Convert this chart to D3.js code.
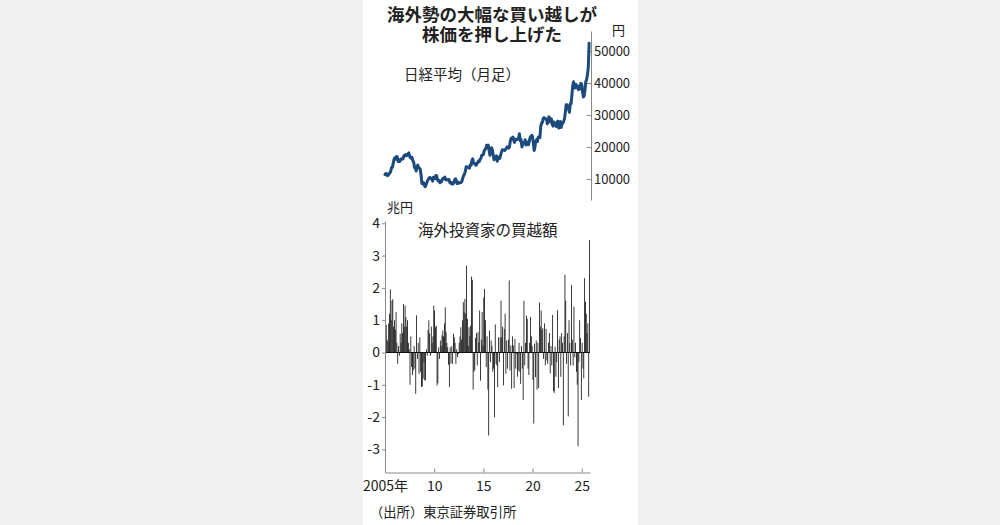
<!DOCTYPE html>
<html>
<head>
<meta charset="utf-8">
<script src="https://cdn.jsdelivr.net/npm/d3@7"></script>
<style>
html,body{margin:0;padding:0;background:#f1f1f1;}
svg{display:block;}
text{font-family:"Noto Sans CJK JP","Noto Sans",sans-serif;fill:#222;}
</style>
</head>
<body>
<svg id="chart" width="1000" height="525"></svg>
<script>
// ---- data ----
const startYear = 2005;
const titleLines = ["海外勢の大幅な買い越しが", "株価を押し上げた"];
const lineLabel = "日経平均（月足）";
const barLabel = "海外投資家の買越額";
const sourceText = "（出所）東京証券取引所";
const priceUnit = "円";
const flowUnit = "兆円";

// Nikkei average, monthly close (yen), Jan 2005 - Oct 2025
const nikkeiClose = [
  11388,11740,11669,11009,11277,11584,11900,12414,13574,13607,14872,16111,
  16650,16205,17060,16906,15467,15505,15457,16141,16128,16399,16274,17226,
  17383,17604,17288,17400,17876,18138,17249,16569,16786,16738,15681,15308,
  13592,13603,12526,13850,14339,13481,13377,13073,11260,8577,8512,8860,
  7994,7568,8110,8828,9523,9958,10357,10493,10133,10035,9346,10546,
  10198,10126,11090,11057,9769,9383,9537,8824,9369,9202,9937,10229,
  10238,10624,9755,9850,9694,9816,9833,8955,8700,8988,8435,8455,
  8803,9723,10084,9521,8543,9007,8695,8840,8870,8928,9446,10395,
  11139,11559,12398,13860,13775,13677,13668,13389,14456,14328,15662,16291,
  14915,14841,14828,14304,14632,15162,15621,15425,16174,16414,17460,17451,
  17674,18798,19207,19520,20563,20236,20585,18890,17388,19083,19747,19034,
  17518,16027,16759,16666,17235,15576,16569,16887,16450,17425,18308,19114,
  19041,19119,18909,19197,19651,20033,19925,19646,20356,22012,22725,22765,
  23098,22068,21454,22468,22202,22305,22554,22865,24120,21920,22351,20015,
  20773,21385,21206,22259,20601,21276,21522,20704,21756,22927,23294,23657,
  23205,21143,18917,20194,21878,22288,21710,23140,23185,22977,26434,27444,
  27663,28966,29179,28813,28860,28792,27284,28090,29453,28893,27822,28792,
  27002,26527,27821,26848,27280,26393,27802,28092,25937,27587,27969,26095,
  27327,27446,28041,28856,30888,33189,33172,32619,31858,30859,33487,33464,
  36287,39166,40369,38406,38488,39583,39102,38648,37920,39081,38208,39895,
  39572,37156,35618,36045,37965,40487,41070,42718,44933,52411
];

// Foreign investors' net purchases, monthly (trillion yen), Jan 2005 - Oct 2025
const foreignNet = [
  0.8,0.85,0.4,0.35,0.9,1.2,1.95,1.0,1.6,1.65,0.8,1.0,
  0.7,1.25,0.3,-0.35,0.2,-0.1,0.58,0.3,0.9,0.6,1.5,0.8,
  1.45,1.1,0.8,1.0,0.3,0.1,-1.0,0.5,-0.45,-0.7,-0.55,0.2,
  -0.5,-1.28,1.15,-0.2,0.3,-0.66,0.47,-0.6,-1.07,-1.05,-0.81,-0.3,
  -0.87,-0.85,0.1,-0.1,0.7,1.0,0.6,-0.1,0.8,0.3,0.5,1.45,
  1.3,0.78,0.83,-1.02,-0.95,0.16,-0.2,0.37,0.2,0.53,0.68,0.5,
  0.9,1.4,0.63,0.3,0.16,-0.38,-1.07,0.16,-0.35,0.2,-0.35,0.58,
  0.47,0.3,-0.35,0.1,-0.14,-0.05,0.3,0.5,0.78,0.4,1.0,1.56,
  1.25,1.66,1.2,2.69,1.04,0.2,0.78,0.5,0.83,2.35,2.25,-1.15,
  -0.6,-0.55,0.45,0.6,-0.4,0.63,0.3,1.3,-0.87,0.4,1.25,0.22,
  1.7,1.97,1.0,-0.45,0.5,-1.15,-2.57,0.68,-0.3,0.37,0.2,-0.6,
  -0.5,-2.0,0.87,-0.35,-0.4,-1.07,0.47,-0.3,0.47,1.6,0.47,0.8,
  -1.02,0.73,1.2,-0.66,0.37,-0.5,0.4,2.23,-0.56,0.22,-1.12,0.5,
  0.22,-1.1,0.42,-0.5,-0.04,-0.75,-0.56,0.3,-0.6,-0.97,0.2,-0.5,
  -1.47,1.6,-0.4,0.3,1.14,1.04,-0.5,-0.7,0.3,1.1,0.5,0.2,
  -0.85,-2.2,0.27,-0.76,0.37,-1.15,0.3,-1.1,1.55,0.8,1.3,0.7,
  0.75,-0.2,0.9,-0.4,0.73,-0.25,-0.35,0.3,0.6,-0.65,0.2,-0.4,
  1.16,-1.2,-1.25,0.18,-0.75,-0.3,1.31,-1.1,0.4,0.5,-0.75,0.6,
  0.3,-2.25,0.5,2.4,1.6,-0.35,0.6,-1.98,1.0,0.3,-0.4,2.09,
  0.4,-0.4,1.42,-0.15,0.3,-0.6,-1.0,-2.9,-0.3,1.0,0.45,-1.47,
  0.3,-0.5,-0.8,2.3,1.57,1.2,0.6,0.9,-1.37,3.48
];

const priceTicks = [10000, 20000, 30000, 40000, 50000];
const flowTicks = [-3, -2, -1, 0, 1, 2, 3, 4];
const yearTicks = [2005, 2010, 2015, 2020, 2025];
const yearTickLabels = ["2005年", "10", "15", "20", "25"];

// ---- drawing ----
const svg = d3.select("#chart");
svg.append("rect").attr("x", 363).attr("y", 0).attr("width", 275).attr("height", 525).attr("fill", "#ffffff");

const x = d3.scaleLinear().domain([2005, 2025.84]).range([385, 590]);
const t = i => startYear + i / 12;

// top chart
const yTop = d3.scaleLinear().domain([3440, 56250]).range([200, 31]);
const rightAxis = d3.axisRight(yTop).tickValues(priceTicks).tickSizeInner(-4).tickSizeOuter(0).tickPadding(3).tickFormat(d => d);
const gR = svg.append("g").attr("transform", "translate(591,0)").call(rightAxis);
gR.select(".domain").attr("stroke", "#888");
gR.selectAll(".tick line").attr("stroke", "#888");
gR.selectAll(".tick text").attr("font-size", 13).attr("fill", "#222").attr("font-family", "'Noto Sans CJK JP',sans-serif");

const line = d3.line().x((d, i) => x(t(i))).y(d => yTop(d)).curve(d3.curveLinear);
svg.append("path").datum(nikkeiClose).attr("d", line)
  .attr("fill", "none").attr("stroke", "#1d4a7c").attr("stroke-width", 3).attr("stroke-linejoin", "round").attr("stroke-linecap", "round");

// bottom chart
const yB = d3.scaleLinear().domain([-3.715, 4.07]).range([472.5, 221]);
svg.append("g").selectAll("rect").data(foreignNet).join("rect")
  .attr("x", (d, i) => x(t(i)))
  .attr("width", (d, i) => x(t(i + 1)) - x(t(i)))
  .attr("y", d => yB(Math.max(0, d)))
  .attr("height", d => Math.abs(yB(d) - yB(0)))
  .attr("fill", "#111");

svg.append("line").attr("x1", 385).attr("x2", 590).attr("y1", yB(0)).attr("y2", yB(0)).attr("stroke", "#111").attr("stroke-width", 1.2);

const leftAxis = d3.axisLeft(yB).tickValues(flowTicks).tickSizeInner(3).tickSizeOuter(0).tickPadding(2).tickFormat(d => d);
const gL = svg.append("g").attr("transform", "translate(385,0)").call(leftAxis);
gL.select(".domain").attr("stroke", "#888");
gL.selectAll(".tick line").attr("stroke", "#888");
gL.selectAll(".tick text").attr("font-size", 14).attr("fill", "#222").attr("font-family", "'Noto Sans CJK JP',sans-serif");

const bottomAxis = d3.axisBottom(x).tickValues(yearTicks).tickSizeInner(-4).tickSizeOuter(0).tickPadding(9)
  .tickFormat((d, i) => yearTickLabels[i]);
const gB = svg.append("g").attr("transform", "translate(0,472.5)").call(bottomAxis);
gB.select(".domain").attr("stroke", "#888");
gB.selectAll(".tick line").attr("stroke", "#888");
gB.selectAll(".tick text").attr("font-size", 14).attr("fill", "#222").attr("font-family", "'Noto Sans CJK JP',sans-serif");

// texts
const title = svg.append("text").attr("text-anchor", "middle").attr("font-size", 17.5).attr("font-weight", 700);
title.append("tspan").attr("x", 492).attr("y", 21).text(titleLines[0]);
title.append("tspan").attr("x", 492).attr("y", 41).text(titleLines[1]);
svg.append("text").attr("x", 612).attr("y", 35).attr("font-size", 13).text(priceUnit);
svg.append("text").attr("x", 404).attr("y", 80).attr("font-size", 14.5).text(lineLabel);
svg.append("text").attr("x", 387).attr("y", 212).attr("font-size", 13).text(flowUnit);
svg.append("text").attr("x", 418).attr("y", 235.5).attr("font-size", 15.5).text(barLabel);
svg.append("text").attr("x", 370).attr("y", 517).attr("font-size", 13.3).text(sourceText);
</script>
</body>
</html>
